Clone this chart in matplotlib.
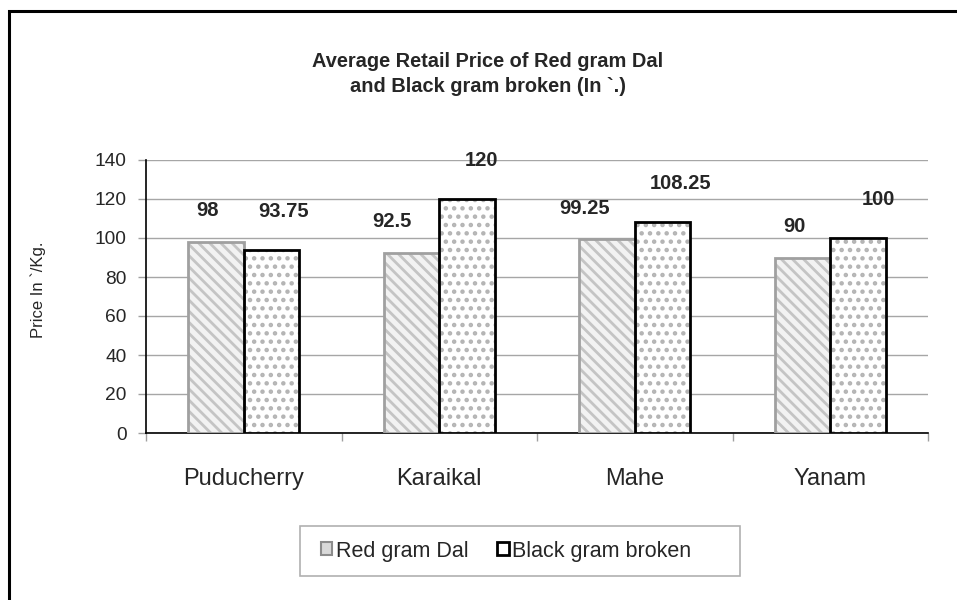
import matplotlib
matplotlib.use("Agg")
import matplotlib.pyplot as plt
import numpy as np
from matplotlib.patches import Rectangle

plt.rcParams['font.family'] = ['Liberation Sans', 'DejaVu Sans']
plt.rcParams['hatch.linewidth'] = 2.0

categories = ["Puducherry", "Karaikal", "Mahe", "Yanam"]
red_gram = [98, 92.5, 99.25, 90]
black_gram = [93.75, 120, 108.25, 100]
red_labels = ["98", "92.5", "99.25", "90"]
black_labels = ["93.75", "120", "108.25", "100"]
# label horizontal shifts (category units) as placed in the reference
red_label_dx = [-0.041, -0.097, -0.113, -0.041]
black_label_dx = [0.061, 0.072, 0.092, 0.102]
yticks = [0, 20, 40, 60, 80, 100, 120, 140]

W, H = 957, 600
fig = plt.figure(figsize=(W / 100, H / 100), dpi=100)
ax = fig.add_axes([146 / W, 1 - 433 / H, (928 - 146) / W, (433 - 160) / H])

x = np.arange(len(categories))
bw = 0.285
txt = "#262626"

# Red gram: diagonal stripes
ax.bar(x - bw / 2, red_gram, bw, color="#f2f2f2", edgecolor="#c4c4c4", hatch="\\\\\\", linewidth=0, zorder=3)
ax.bar(x - bw / 2, red_gram, bw, fill=False, edgecolor="#a0a0a0", linewidth=2, zorder=4)
# Black gram: dots
ax.bar(x + bw / 2, black_gram, bw, color="white", edgecolor="#b4b4b4", hatch="..", linewidth=0, zorder=3)
ax.bar(x + bw / 2, black_gram, bw, fill=False, edgecolor="black", linewidth=2, zorder=4)

for i in range(len(categories)):
    ax.annotate(red_labels[i], (x[i] - bw / 2 + red_label_dx[i], red_gram[i]),
                xytext=(0, 22.5), textcoords="offset points", ha="center", va="center",
                fontsize=14.5, fontweight="bold", color=txt, annotation_clip=False)
    ax.annotate(black_labels[i], (x[i] + bw / 2 + black_label_dx[i], black_gram[i]),
                xytext=(0, 27.5), textcoords="offset points", ha="center", va="center",
                fontsize=14.5, fontweight="bold", color=txt, annotation_clip=False)

ax.set_xlim(-0.5, len(categories) - 0.5)
ax.set_ylim(0, 140)
ax.set_yticks(yticks)
ax.set_yticklabels([str(v) for v in yticks], fontsize=13.8, color=txt)
ax.set_xticks(x)
ax.set_xticklabels(categories, fontsize=17, color=txt)
ax.tick_params(axis="x", length=0, pad=25)
ax.set_xticks(np.arange(-0.5, len(categories), 1.0), minor=True)
ax.tick_params(axis="x", which="minor", length=6, color="#a0a0a0", width=1)
ax.tick_params(axis="y", length=6, color="#a0a0a0", width=1, pad=8)
ax.yaxis.grid(True, color="#a6a6a6", linewidth=1, zorder=0)
ax.set_axisbelow(True)
for s in ["top", "right"]:
    ax.spines[s].set_visible(False)
ax.spines["left"].set_color("black")
ax.spines["bottom"].set_color("black")
ax.spines["left"].set_linewidth(1.2)
ax.spines["bottom"].set_linewidth(1.2)

fig.text(38 / W, 1 - 290 / H, "Price In `/Kg.", rotation=90, ha="center", va="center",
         fontsize=12, color=txt)
fig.text(488 / W, 1 - 74 / H, "Average Retail Price of Red gram Dal\nand Black gram broken (In `.)",
         ha="center", va="center", fontsize=14.4, fontweight="bold", color=txt, linespacing=1.35)

# legend (content) and its frame
h1 = Rectangle((0, 0), 1, 1, facecolor="#d9d9d9", edgecolor="#8c8c8c", linewidth=1.5)
h2 = Rectangle((0, 0), 1, 1, facecolor="white", edgecolor="black", linewidth=2)
leg = fig.legend([h1, h2], ["Red gram Dal", "Black gram broken"], loc="center",
                 bbox_to_anchor=(506 / W, 1 - 551 / H), ncol=2, fontsize=15.5,
                 frameon=False, handlelength=0.55, handleheight=0.55, handletextpad=0.15,
                 columnspacing=1.35, borderpad=0.0, borderaxespad=0)
for t in leg.get_texts():
    t.set_color(txt)
fig.patches.append(Rectangle((300 / W, 1 - 576 / H), 440 / W, 50 / H, transform=fig.transFigure,
                             fill=False, edgecolor="#b0b0b0", linewidth=1.2))

# outer border
fig.patches.append(Rectangle((9 / W, -0.1), 1.2, 1 - 11 / H + 0.1, transform=fig.transFigure,
                             fill=False, edgecolor="black", linewidth=2.2))

fig.savefig("out.png", dpi=100)
